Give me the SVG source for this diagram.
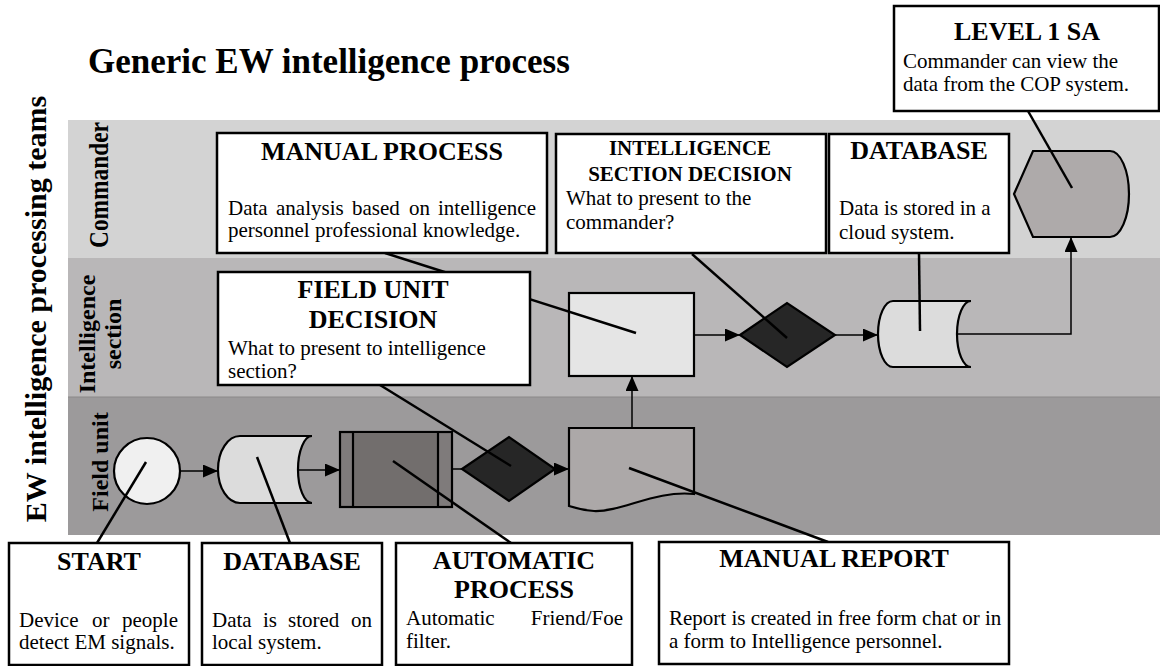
<svg xmlns="http://www.w3.org/2000/svg" width="1160" height="666" viewBox="0 0 1160 666">
<style>
text{font-family:"Liberation Serif","Times New Roman",serif;fill:#000}
.title{font-size:35px;font-weight:bold}
.lbl{font-weight:bold}
.ct{font-size:26px;font-weight:bold;text-anchor:middle}
.ct2{font-size:21px;font-weight:bold;text-anchor:middle}
.bd{font-size:21px}
.box{fill:#fff;stroke:#000;stroke-width:2.5}
.shp{stroke:#000;stroke-width:2.2}
.con{fill:none;stroke:#000;stroke-width:1.5}
.lead{fill:none;stroke:#000;stroke-width:2.5}
</style>
<defs>
<marker id="arr" viewBox="0 0 15 13" refX="15" refY="6.5" markerWidth="15" markerHeight="13" markerUnits="userSpaceOnUse" orient="auto">
<path d="M0,0 L15,6.5 L0,13 Z" fill="#000"/>
</marker>
</defs>
<rect width="1160" height="666" fill="#fff"/>
<g id="lanes">
<rect x="68" y="120" width="1092" height="138" fill="#d3d3d3"/>
<rect x="68" y="258" width="1092" height="139" fill="#b9b7b8"/>
<rect x="68" y="397" width="1092" height="138" fill="#9c9a9b"/>
<line x1="68" y1="397" x2="1160" y2="397" stroke="#8a8889" stroke-width="1"/>
<text class="lbl" font-size="28" text-anchor="middle" textLength="126" lengthAdjust="spacingAndGlyphs" transform="translate(108,185) rotate(-90)">Commander</text>
<text class="lbl" font-size="24" text-anchor="middle" transform="translate(95,334) rotate(-90)">Intelligence</text>
<text class="lbl" font-size="24" text-anchor="middle" transform="translate(121,334) rotate(-90)">section</text>
<text class="lbl" font-size="24" text-anchor="middle" transform="translate(108,462) rotate(-90)">Field unit</text>
</g>
<text class="title" x="88" y="73">Generic EW intelligence process</text>
<text class="lbl" font-size="30" text-anchor="middle" transform="translate(46,309) rotate(-90)">EW intelligence processing teams</text>
<g id="start"><circle class="shp" cx="147" cy="471" r="33" fill="#f0f0f0"/></g>
<g id="db-local"><path class="shp" fill="#dcdcdc" d="M240,436 L312,436 A14,33.5 0 0 0 312,503 L240,503 A22,33.5 0 0 1 240,436 Z"/></g>
<g id="auto-process">
<rect class="shp" x="340" y="432" width="112" height="75" fill="#7f7b7b"/>
<rect x="353" y="433" width="85" height="73" fill="#726e6d"/>
<line x1="353" y1="432" x2="353" y2="507" stroke="#000" stroke-width="2.2"/>
<line x1="438" y1="432" x2="438" y2="507" stroke="#000" stroke-width="2.2"/>
</g>
<g id="field-decision"><polygon class="shp" fill="#262626" points="462,469 509,437 555,469 509,501"/></g>
<g id="manual-report"><path class="shp" fill="#aca8a8" d="M569,428 L694,428 L694,494 C655,490 622,512 594,511 C582,510 575,508 569,506 Z"/></g>
<g id="manual-process"><rect class="shp" x="569" y="293" width="125" height="83" fill="#e5e5e5"/></g>
<g id="intel-decision"><polygon class="shp" fill="#262626" points="740,335 787,303 835,335 787,367"/></g>
<g id="db-cloud"><path class="shp" fill="#dcdcdc" d="M893,301 L971,301 A14,33 0 0 0 971,367 L893,367 A15,33 0 0 1 893,301 Z"/></g>
<g id="display"><path class="shp" fill="#aeaaaa" d="M1014,194 L1033,151 L1110,151 A19,43 0 0 1 1110,237 L1033,237 Z"/></g>
<g id="connectors">
<line class="con" x1="180" y1="471" x2="218" y2="471" marker-end="url(#arr)"/>
<line class="con" x1="298" y1="470" x2="340" y2="470" marker-end="url(#arr)"/>
<line class="con" x1="452" y1="469" x2="462" y2="469"/>
<line class="con" x1="555" y1="469" x2="569" y2="469" marker-end="url(#arr)"/>
<line class="con" x1="632" y1="428" x2="632" y2="376" marker-end="url(#arr)"/>
<line class="con" x1="694" y1="335" x2="740" y2="335" marker-end="url(#arr)"/>
<line class="con" x1="835" y1="335" x2="878" y2="335" marker-end="url(#arr)"/>
<polyline class="con" points="957,334 1071,334 1071,237" marker-end="url(#arr)"/>
</g>
<g id="leaders">
<line class="lead" x1="385" y1="253" x2="636" y2="333"/>
<line class="lead" x1="692" y1="254" x2="787" y2="338"/>
<line class="lead" x1="919" y1="253" x2="920" y2="331"/>
<line class="lead" x1="1028" y1="111" x2="1072" y2="188"/>
<line class="lead" x1="380" y1="385" x2="511" y2="466"/>
<line class="lead" x1="97" y1="543" x2="146" y2="462"/>
<line class="lead" x1="290" y1="543" x2="257" y2="457"/>
<line class="lead" x1="511" y1="543" x2="393" y2="461"/>
<line class="lead" x1="828" y1="542" x2="629" y2="468"/>
</g>
<g id="note-manual-process">
<rect class="box" x="217" y="133" width="330" height="120"/>
<text class="ct" x="382" y="160">MANUAL PROCESS</text>
<text class="bd" y="215"><tspan x="228">Data</tspan><tspan x="276">analysis</tspan><tspan x="352">based</tspan><tspan x="409">on</tspan><tspan x="536" text-anchor="end">intelligence</tspan></text>
<text class="bd" x="228" y="237">personnel professional knowledge.</text>
</g>
<g id="note-field-decision">
<rect class="box" x="218" y="272" width="312" height="113"/>
<text class="ct" x="373" y="298">FIELD UNIT</text>
<text class="ct" x="373" y="328">DECISION</text>
<text class="bd" x="228" y="355">What to present to intelligence</text>
<text class="bd" x="228" y="378">section?</text>
</g>
<g id="note-intel-decision">
<rect class="box" x="556" y="134" width="270" height="119"/>
<text class="ct2" x="690" y="155">INTELLIGENCE</text>
<text class="ct2" x="690" y="181">SECTION DECISION</text>
<text class="bd" x="566" y="205">What to present to the</text>
<text class="bd" x="566" y="229">commander?</text>
</g>
<g id="note-db-cloud">
<rect class="box" x="829" y="134" width="180" height="119"/>
<text class="ct" x="919" y="159">DATABASE</text>
<text class="bd" x="839" y="215">Data is stored in a</text>
<text class="bd" x="839" y="239">cloud system.</text>
</g>
<g id="note-level1">
<rect class="box" x="894" y="6" width="265" height="105"/>
<text class="ct" x="1027" y="40">LEVEL 1 SA</text>
<text class="bd" x="903" y="68">Commander can view the</text>
<text class="bd" x="903" y="91">data from the COP system.</text>
</g>
<g id="note-start">
<rect class="box" x="9" y="543" width="180" height="122"/>
<text class="ct" x="99" y="570">START</text>
<text class="bd" y="627"><tspan x="19">Device</tspan><tspan x="92">or</tspan><tspan x="178" text-anchor="end">people</tspan></text>
<text class="bd" x="19" y="649">detect EM signals.</text>
</g>
<g id="note-db-local">
<rect class="box" x="202" y="543" width="180" height="122"/>
<text class="ct" x="292" y="570">DATABASE</text>
<text class="bd" y="627"><tspan x="212">Data</tspan><tspan x="263">is</tspan><tspan x="288">stored</tspan><tspan x="372" text-anchor="end">on</tspan></text>
<text class="bd" x="212" y="649">local system.</text>
</g>
<g id="note-auto">
<rect class="box" x="396" y="543" width="236" height="122"/>
<text class="ct" x="514" y="569">AUTOMATIC</text>
<text class="ct" x="514" y="598">PROCESS</text>
<text class="bd" y="625"><tspan x="406">Automatic</tspan><tspan x="623" text-anchor="end">Friend/Foe</tspan></text>
<text class="bd" x="406" y="648">filter.</text>
</g>
<g id="note-manual-report">
<rect class="box" x="659" y="542" width="350" height="122"/>
<text class="ct" x="834" y="567">MANUAL REPORT</text>
<text class="bd" x="669" y="625">Report is created in free form chat or in</text>
<text class="bd" x="669" y="648">a form to Intelligence personnel.</text>
</g>
</svg>
